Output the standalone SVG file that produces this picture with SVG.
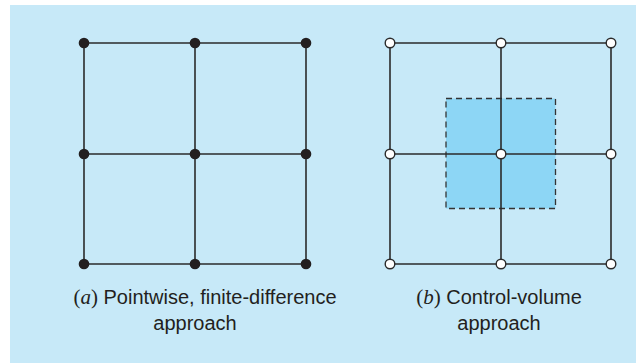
<svg xmlns="http://www.w3.org/2000/svg" width="636" height="363" viewBox="0 0 636 363">
<style>
.grid{stroke:#2b2b2b;stroke-width:1.6;fill:none}
.fdot{fill:#231f20}
.odot{fill:#ffffff;stroke:#2b2b2b;stroke-width:1.4}
.cap{font-family:"Liberation Sans",Arial,sans-serif;font-size:20px;fill:#231f20;text-anchor:middle}
.ser{font-family:"Liberation Serif","Times New Roman",serif;font-size:21px}
</style>
<rect x="10" y="5" width="626" height="358" fill="#c7e9f8"/>
<g id="cv">
<rect x="446" y="98.5" width="109.5" height="110" fill="#8dd6f5" stroke="#333" stroke-width="1.3" stroke-dasharray="6,4"/>
</g>
<g id="connectors">
<path class="grid" d="M84 43H306M84 154H306M84 264H306M84 43V264M195 43V264M306 43V264"/>
<path class="grid" d="M390 43H611M390 154H611M390 264H611M390 43V264M501 43V264M611 43V264"/>
</g>
<g id="nodes-a">
<circle class="fdot" cx="84" cy="43" r="5.3"/><circle class="fdot" cx="195" cy="43" r="5.3"/><circle class="fdot" cx="306" cy="43" r="5.3"/>
<circle class="fdot" cx="84" cy="154" r="5.3"/><circle class="fdot" cx="195" cy="154" r="5.3"/><circle class="fdot" cx="306" cy="154" r="5.3"/>
<circle class="fdot" cx="84" cy="264" r="5.3"/><circle class="fdot" cx="195" cy="264" r="5.3"/><circle class="fdot" cx="306" cy="264" r="5.3"/>
</g>
<g id="nodes-b">
<circle class="odot" cx="390" cy="43" r="4.8"/><circle class="odot" cx="501" cy="43" r="4.8"/><circle class="odot" cx="611" cy="43" r="4.8"/>
<circle class="odot" cx="390" cy="154" r="4.8"/><circle class="odot" cx="501" cy="154" r="4.8"/><circle class="odot" cx="611" cy="154" r="4.8"/>
<circle class="odot" cx="390" cy="264" r="4.8"/><circle class="odot" cx="501" cy="264" r="4.8"/><circle class="odot" cx="611" cy="264" r="4.8"/>
</g>
<g id="caption-a">
<text class="cap" x="205" y="304"><tspan class="ser">(<tspan font-style="italic">a</tspan>)</tspan> Pointwise, finite-difference</text>
<text class="cap" x="195" y="330">approach</text>
</g>
<g id="caption-b">
<text class="cap" x="499" y="304"><tspan class="ser">(<tspan font-style="italic">b</tspan>)</tspan> Control-volume</text>
<text class="cap" x="499" y="330">approach</text>
</g>
</svg>
